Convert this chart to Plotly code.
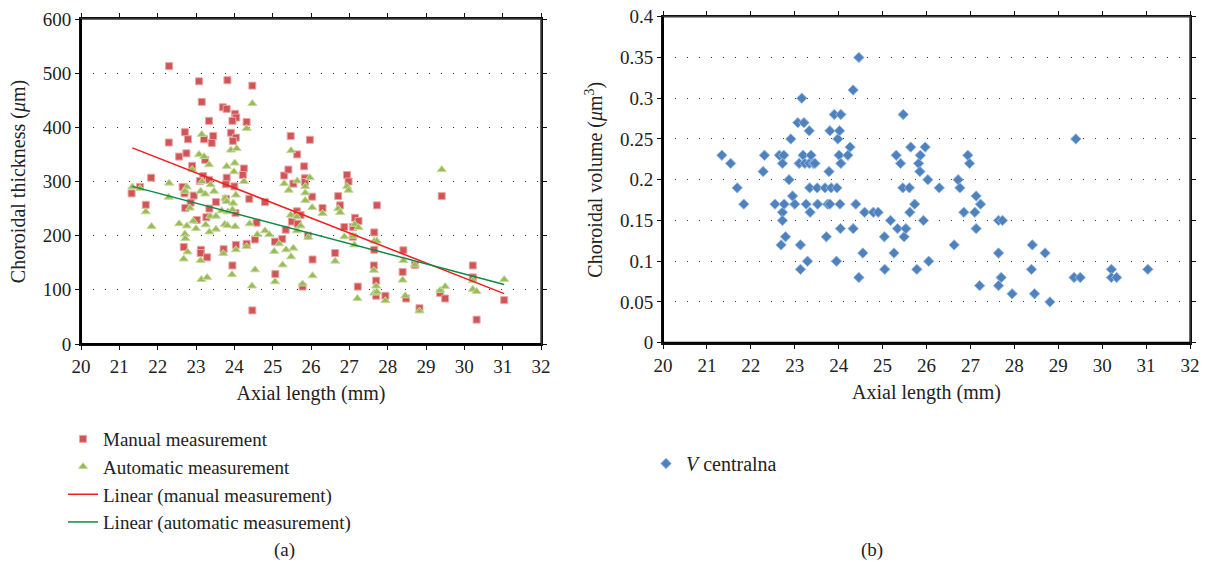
import plotly.graph_objects as go

# ---------------- Panel (a): choroidal thickness ----------------
manual_x = [22.30, 23.08, 23.82, 24.47, 23.15, 23.70, 23.80, 24.02, 24.05, 23.34, 23.95, 24.32,
            22.71, 22.79, 23.21, 23.45, 23.91, 23.41, 24.04, 23.96, 22.29, 22.56, 22.75, 23.24,
            22.90, 23.19, 23.10, 23.34, 24.25, 24.22, 23.80, 23.78, 24.00, 21.83, 21.54, 21.32,
            21.69, 22.65, 22.70, 22.94, 22.86, 22.72, 23.35, 23.52, 23.78, 23.27, 23.02, 24.03,
            24.39, 24.58, 24.54, 22.68, 23.13, 23.12, 23.29, 23.72, 24.04, 24.32, 23.95, 24.47,
            24.80, 25.06, 25.07, 25.25, 25.30, 25.34, 25.41, 25.47, 25.50, 25.54, 25.63, 25.65,
            25.64, 25.73, 25.78, 25.82, 25.84, 25.84, 25.92, 25.97, 26.03, 26.04, 26.30, 26.63,
            26.71, 26.76, 26.87, 26.94, 26.98, 27.09, 27.10, 27.15, 27.24, 27.22, 27.65, 27.65,
            27.64, 27.70, 27.70, 27.72, 27.94, 28.39, 28.41, 28.48, 28.71, 28.83, 29.37, 29.41,
            29.50, 30.22, 30.22, 30.32, 31.04]
manual_y = [513, 485, 487, 477, 447, 437, 434, 425, 418, 412, 412, 410,
            391, 378, 378, 384, 390, 371, 381, 375, 372, 346, 352, 340,
            329, 310, 301, 303, 324, 312, 307, 295, 291, 307, 290, 278,
            257, 290, 278, 274, 261, 251, 250, 262, 268, 234, 229, 242,
            268, 224, 193, 179, 174, 168, 160, 175, 183, 185, 145, 62,
            262, 189, 129, 194, 311, 211, 322, 384, 226, 296, 245, 222,
            350, 238, 106, 328, 306, 299, 200, 377, 272, 156, 251, 168,
            273, 256, 216, 312, 300, 198, 216, 233, 227, 106, 206, 174,
            145, 117, 89, 256, 89, 133, 173, 84, 146, 66, 94, 273,
            84, 145, 123, 45, 81]

auto_x = [24.47, 24.32, 23.15, 23.91, 24.06, 23.08, 23.21, 23.34, 22.90, 23.80, 24.01, 23.99,
          24.25, 22.30, 21.54, 21.34, 23.16, 23.38, 23.47, 22.76, 22.71, 23.12, 23.24, 24.04,
          23.76, 23.80, 23.97, 22.29, 22.84, 23.67, 23.83, 23.95, 23.37, 23.52, 22.93, 23.25,
          21.69, 21.84, 22.56, 22.76, 23.00, 23.35, 23.52, 23.75, 23.82, 24.02, 24.40, 24.60,
          22.71, 22.72, 22.78, 22.68, 23.12, 23.71, 24.04, 24.32, 24.54, 23.94, 23.14, 23.29,
          24.46, 24.80, 24.91, 25.04, 25.06, 25.17, 25.26, 25.30, 25.42, 25.35, 25.48, 25.48,
          25.47, 25.54, 25.63, 25.63, 25.64, 25.73, 25.78, 25.85, 25.85, 25.85, 25.93, 25.97,
          26.03, 26.04, 26.30, 26.63, 26.71, 26.76, 26.87, 26.94, 26.98, 27.09, 27.13, 27.14,
          27.24, 27.21, 27.65, 27.72, 27.64, 27.70, 27.65, 27.72, 27.94, 28.39, 28.41, 28.46,
          28.71, 28.83, 29.37, 29.41, 29.50, 30.22, 30.22, 30.32, 31.04]
auto_y = [444, 398, 387, 358, 361, 350, 346, 331, 322, 328, 334, 318,
          300, 297, 287, 290, 300, 294, 282, 290, 282, 282, 277, 275,
          269, 263, 260, 271, 251, 246, 244, 248, 236, 236, 227, 220,
          244, 217, 222, 218, 213, 207, 212, 221, 219, 217, 222, 202,
          203, 195, 170, 157, 154, 167, 174, 180, 137, 128, 119, 123,
          107, 209, 202, 171, 115, 185, 146, 296, 284, 174, 161, 357,
          238, 177, 235, 209, 301, 218, 111, 291, 279, 265, 197, 307,
          252, 126, 241, 153, 250, 243, 198, 291, 284, 199, 183, 221,
          215, 84, 190, 190, 136, 107, 94, 96, 80, 118, 154, 89,
          146, 61, 99, 322, 106, 117, 101, 97, 119]

trend_x = [21.34, 31.04]
manual_trend = [362, 93]
auto_trend = [291, 110]

# ---------------- Panel (b): choroidal volume ----------------
vol_x = [21.34, 21.54, 21.69, 21.84, 22.28, 22.31, 22.55, 22.65, 22.75, 22.72, 22.72, 22.72,
         22.69, 22.79, 22.76, 22.87, 22.91, 22.95, 23.00, 23.07, 23.10, 23.13, 23.13, 23.16,
         23.19, 23.21, 23.23, 23.26, 23.29, 23.33, 23.33, 23.34, 23.35, 23.37, 23.42, 23.46,
         23.51, 23.52, 23.69, 23.72, 23.75, 23.80, 23.78, 23.80, 23.83, 23.90, 23.95, 23.96,
         23.98, 24.01, 24.02, 24.03, 24.04, 24.05, 24.05, 24.21, 24.26, 24.33, 24.33, 24.39,
         24.46, 24.46, 24.55, 24.59, 24.79, 24.90, 25.04, 25.05, 25.18, 25.26, 25.31, 25.34,
         25.41, 25.46, 25.47, 25.49, 25.53, 25.61, 25.62, 25.64, 25.73, 25.78, 25.82, 25.85,
         25.86, 25.93, 25.97, 26.03, 26.05, 26.29, 26.63, 26.72, 26.76, 26.85, 26.94, 26.98,
         27.10, 27.13, 27.13, 27.23, 27.21, 27.64, 27.73, 27.64, 27.70, 27.64, 27.95, 28.41,
         28.39, 28.46, 28.70, 28.81, 29.36, 29.40, 29.50, 30.21, 30.21, 30.33, 31.04]
vol_y = [0.23, 0.22, 0.19, 0.17, 0.21, 0.23, 0.17, 0.23, 0.23, 0.22, 0.16, 0.15,
         0.12, 0.13, 0.17, 0.20, 0.25, 0.18, 0.17, 0.27, 0.22, 0.12, 0.09, 0.30,
         0.23, 0.27, 0.22, 0.17, 0.10, 0.26, 0.22, 0.19, 0.16, 0.23, 0.22, 0.22,
         0.19, 0.17, 0.19, 0.13, 0.17, 0.17, 0.21, 0.26, 0.19, 0.28, 0.10, 0.19,
         0.25, 0.23, 0.26, 0.17, 0.14, 0.28, 0.22, 0.23, 0.24, 0.31, 0.14, 0.17,
         0.35, 0.08, 0.11, 0.16, 0.16, 0.16, 0.13, 0.09, 0.15, 0.11, 0.23, 0.14,
         0.22, 0.19, 0.28, 0.13, 0.14, 0.19, 0.16, 0.24, 0.17, 0.09, 0.22, 0.21,
         0.23, 0.15, 0.24, 0.20, 0.10, 0.19, 0.12, 0.20, 0.19, 0.16, 0.23, 0.22,
         0.16, 0.18, 0.14, 0.17, 0.07, 0.15, 0.15, 0.11, 0.08, 0.07, 0.06, 0.12,
         0.09, 0.06, 0.11, 0.05, 0.08, 0.25, 0.08, 0.09, 0.08, 0.08, 0.09]

x_ticks = [20, 21, 22, 23, 24, 25, 26, 27, 28, 29, 30, 31, 32]
thick_ticks = [0, 100, 200, 300, 400, 500, 600]
vol_ticks = [0, 0.05, 0.1, 0.15, 0.2, 0.25, 0.3, 0.35, 0.4]
vol_tick_text = ["0", "0.05", "0.1", "0.15", "0.2", "0.25", "0.3", "0.35", "0.4"]

SERIF = "Liberation Serif"
# page body margin is removed by a post script, so the figure fills the window
FW, FH = 1207, 575


def fx(px):
    return px / FW


def fy(py):
    return 1 - py / FH


fig = go.Figure()

fig.add_trace(go.Scatter(
    x=manual_x, y=manual_y, mode="markers", name="Manual measurement",
    marker=dict(symbol="square", size=7, color="#cf5557", line=dict(color="#eba5a5", width=1)),
    xaxis="x", yaxis="y", legend="legend"))
fig.add_trace(go.Scatter(
    x=auto_x, y=auto_y, mode="markers", name="Automatic measurement",
    marker=dict(symbol="triangle-up", size=8, color="#9bbb59", line=dict(color="#c6da9e", width=1)),
    xaxis="x", yaxis="y", legend="legend"))
fig.add_trace(go.Scatter(
    x=trend_x, y=manual_trend, mode="lines", name="Linear (manual measurement)",
    line=dict(color="#f01e1e", width=1.5), xaxis="x", yaxis="y", legend="legend"))
fig.add_trace(go.Scatter(
    x=trend_x, y=auto_trend, mode="lines", name="Linear (automatic measurement)",
    line=dict(color="#0f8a45", width=1.5), xaxis="x", yaxis="y", legend="legend"))

fig.add_trace(go.Scatter(
    x=vol_x, y=vol_y, mode="markers", name="<i>V</i> centralna",
    marker=dict(symbol="diamond", size=8, color="#4f81bd", line=dict(color="#95b9e4", width=1)),
    xaxis="x2", yaxis="y2", legend="legend2"))

axis_common = dict(
    showline=True, linecolor="#111111", linewidth=2, mirror="ticks",
    ticks="outside", ticklen=4, tickcolor="#111111", tickwidth=1,
    tickfont=dict(family=SERIF, size=19, color="#222"),
    zeroline=False, automargin=False, ticklabeloverflow="allow",
)
grid_y = dict(showgrid=True, gridcolor="#333", gridwidth=1, griddash="1px,11px")
title_font = dict(family=SERIF, size=20, color="#222")

# plot-area frames (drawn relative to each subplot's domain)
frames = []
for xr, yr in (("x domain", "y domain"), ("x2 domain", "y2 domain")):
    frames.append(dict(type="rect", xref=xr, yref=yr, x0=0, x1=1, y0=0, y1=1,
                       line=dict(color="#3a3a3a", width=1.5), fillcolor="rgba(0,0,0,0)", layer="above"))
    frames.append(dict(type="line", xref=xr, yref=yr, x0=0, x1=0, y0=0, y1=1,
                       line=dict(color="#000000", width=2), layer="above"))
    frames.append(dict(type="line", xref=xr, yref=yr, x0=0, x1=1, y0=0, y1=0,
                       line=dict(color="#000000", width=2), layer="above"))

fig.update_layout(
    width=FW, height=FH,
    margin=dict(l=0, r=0, t=0, b=0),
    paper_bgcolor="white", plot_bgcolor="white",
    font=dict(family=SERIF, size=19, color="#222"),
    xaxis=dict(domain=[fx(81), fx(541)], range=[20, 32], tickvals=x_ticks, showgrid=False,
               title=dict(text="Axial length (mm)", font=title_font, standoff=10),
               anchor="y", **axis_common),
    yaxis=dict(domain=[fy(344), fy(19)], range=[0, 600], tickvals=thick_ticks,
               title=dict(text="Choroidal thickness (<i>μ</i>m)", font=title_font, standoff=12),
               anchor="x", **grid_y, **axis_common),
    xaxis2=dict(domain=[fx(663), fx(1190)], range=[20, 32], tickvals=x_ticks, showgrid=False,
                title=dict(text="Axial length (mm)", font=title_font, standoff=10),
                anchor="y2", **axis_common),
    yaxis2=dict(domain=[fy(342.7), fy(16.7)], range=[0, 0.4], tickvals=vol_ticks,
                ticktext=vol_tick_text,
                title=dict(text="Choroidal volume (<i>μ</i>m<sup>3</sup>)", font=title_font, standoff=12),
                anchor="x2", **grid_y, **axis_common),
    shapes=frames,
    legend=dict(x=fx(63), y=fy(420), xanchor="left", yanchor="top",
                font=dict(family=SERIF, size=19, color="#222"), bgcolor="rgba(0,0,0,0)",
                tracegroupgap=0, itemwidth=30),
    legend2=dict(x=fx(646), y=fy(444), xanchor="left", yanchor="top",
                 font=dict(family=SERIF, size=20, color="#222"), bgcolor="rgba(0,0,0,0)"),
    showlegend=True,
    annotations=[
        dict(text="(a)", x=fx(272), y=fy(563), xref="paper", yref="paper",
             showarrow=False, font=dict(family=SERIF, size=19, color="#222")),
        dict(text="(b)", x=fx(885), y=fy(563), xref="paper", yref="paper",
             showarrow=False, font=dict(family=SERIF, size=19, color="#222")),
    ],
)

fig.write_html("out.html",
               config={"displayModeBar": False},
               post_script="document.body.style.margin='0px'; document.body.style.overflow='hidden';")
